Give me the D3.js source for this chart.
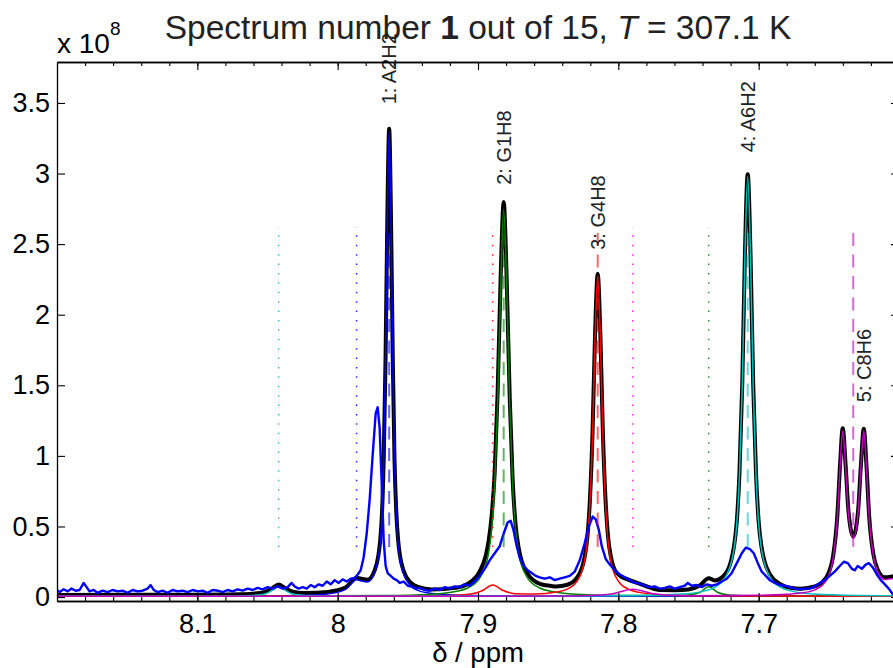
<!DOCTYPE html>
<html>
<head>
<meta charset="utf-8">
<style>
body
{
  margin:0;
  background:#fff;
}
text
{
  font-family:"Liberation Sans", Arial, Helvetica, sans-serif;
  fill:#000;
}
</style>
<script src="https://cdnjs.cloudflare.com/ajax/libs/d3/7.8.5/d3.min.js"></script>
</head>
<body>
<script>
// ---- data (ppm, intensity in units of 1e8) ----
var spectrumIndex = 1, spectrumCount = 15, temperature = "307.1";

var xTicks = [8.1, 8, 7.9, 7.8, 7.7];
var yTicks = [0, 0.5, 1, 1.5, 2, 2.5, 3, 3.5];

// measured spectrum (blue, noisy)
var measured = [
  [8.2,0.05],[8.1981,0.035],[8.1953,0.055],[8.1924,0.04],[8.1896,0.06],[8.1867,0.045],[8.1839,0.05],[8.181,0.1],
  [8.1789,0.07],[8.1768,0.04],[8.1739,0.05],[8.1711,0.03],[8.1675,0.045],[8.1639,0.035],[8.1604,0.05],[8.1568,0.04],
  [8.1532,0.045],[8.1497,0.03],[8.1461,0.05],[8.1426,0.04],[8.139,0.045],[8.1354,0.06],[8.1333,0.085],[8.1311,0.05],
  [8.1283,0.035],[8.1247,0.045],[8.1212,0.03],[8.1176,0.05],[8.114,0.04],[8.1105,0.045],[8.1069,0.035],[8.1033,0.05],
  [8.0998,0.04],[8.0962,0.045],[8.0927,0.03],[8.0891,0.05],[8.0855,0.045],[8.082,0.035],[8.0784,0.05],[8.0748,0.04],
  [8.0713,0.055],[8.0677,0.045],[8.0641,0.06],[8.0606,0.05],[8.057,0.065],[8.0535,0.055],[8.0499,0.07],[8.0463,0.06],
  [8.0428,0.075],[8.0392,0.06],[8.0356,0.07],[8.0328,0.1],[8.0306,0.075],[8.0278,0.06],[8.0249,0.07],[8.0221,0.06],
  [8.0192,0.085],[8.0164,0.07],[8.0135,0.09],[8.0107,0.08],[8.0078,0.11],[8.005,0.09],[8.0021,0.12],[7.9993,0.1],
  [7.9964,0.125],[7.9936,0.11],[7.9907,0.13],[7.9879,0.135],[7.9857,0.16],[7.9836,0.19],[7.9815,0.28],[7.9793,0.45],
  [7.9772,0.69],[7.9751,1.0],[7.9729,1.3],[7.9715,1.345],[7.9701,1.2],[7.9686,0.8],[7.9672,0.4],[7.9658,0.22],
  [7.9644,0.17],[7.9622,0.15],[7.9601,0.13],[7.9579,0.12],[7.9558,0.1],[7.953,0.11],[7.9501,0.08],[7.9473,0.075],
  [7.9444,0.06],[7.9416,0.065],[7.938,0.05],[7.9344,0.045],[7.9309,0.06],[7.9273,0.05],[7.9237,0.07],[7.9202,0.06],
  [7.9166,0.075],[7.913,0.07],[7.9095,0.09],[7.9059,0.08],[7.9024,0.11],[7.8988,0.15],[7.8952,0.2],[7.8917,0.26],
  [7.8881,0.31],[7.8845,0.36],[7.8817,0.45],[7.8788,0.53],[7.8767,0.54],[7.8746,0.47],[7.8724,0.36],[7.8703,0.28],
  [7.8674,0.22],[7.8646,0.19],[7.8617,0.17],[7.8589,0.15],[7.856,0.14],[7.8525,0.13],[7.8489,0.14],[7.8453,0.12],
  [7.8418,0.13],[7.8382,0.14],[7.8346,0.15],[7.8311,0.18],[7.8275,0.26],[7.824,0.38],[7.8211,0.5],[7.8182,0.57],
  [7.8161,0.55],[7.814,0.48],[7.8118,0.36],[7.809,0.27],[7.8061,0.23],[7.8026,0.19],[7.799,0.16],[7.7954,0.14],
  [7.7919,0.12],[7.7883,0.1],[7.7847,0.095],[7.7812,0.08],[7.7776,0.07],[7.7741,0.075],[7.7705,0.06],[7.7669,0.065],
  [7.7634,0.075],[7.7598,0.06],[7.7562,0.07],[7.7527,0.08],[7.7505,0.1],[7.7477,0.08],[7.7441,0.085],[7.7406,0.07],
  [7.737,0.09],[7.7334,0.08],[7.7299,0.09],[7.7263,0.11],[7.7227,0.13],[7.7192,0.17],[7.7156,0.24],[7.712,0.31],
  [7.7092,0.35],[7.7063,0.34],[7.7035,0.31],[7.7006,0.24],[7.6978,0.18],[7.6949,0.15],[7.6921,0.12],[7.6885,0.1],
  [7.685,0.085],[7.6814,0.08],[7.6778,0.07],[7.6743,0.06],[7.6707,0.055],[7.6671,0.06],[7.6636,0.06],[7.66,0.075],
  [7.6565,0.1],[7.6529,0.12],[7.6493,0.15],[7.6458,0.18],[7.6422,0.22],[7.6393,0.25],[7.6365,0.24],[7.6336,0.2],
  [7.6315,0.19],[7.6294,0.22],[7.6265,0.2],[7.6237,0.23],[7.6215,0.24],[7.6187,0.21],[7.6158,0.16],[7.613,0.12],
  [7.6101,0.09],[7.6073,0.06],[7.6044,0.02],[7.6,0.0]
];

// total fit (black)
var totalFit = [
  [8.2,0.015],[8.15,0.016],[8.1,0.017],[8.07,0.020],[8.06,0.024],[8.052,0.035],[8.047,0.059],[8.042,0.089],
  [8.037,0.060],[8.032,0.038],[8.024,0.029],[8.0146,0.030],[8.0,0.048],[7.9941,0.070],[7.9865,0.137],[7.9838,0.131],
  [7.9787,0.122],[7.9736,0.190],[7.971,0.294],[7.9697,0.401],[7.9684,0.597],[7.9672,0.976],[7.9659,1.672],[7.9646,2.684],
  [7.9633,3.317],[7.962,2.685],[7.9607,1.672],[7.9595,0.976],[7.9582,0.597],[7.9569,0.401],[7.9556,0.293],[7.953,0.185],
  [7.9479,0.102],[7.9428,0.072],[7.933,0.054],[7.9159,0.065],[7.9074,0.093],[7.8988,0.181],[7.8945,0.293],[7.8924,0.398],
  [7.8903,0.572],[7.8881,0.885],[7.886,1.454],[7.8838,2.284],[7.8817,2.798],[7.8796,2.265],[7.8774,1.414],[7.8753,0.829],
  [7.8732,0.511],[7.871,0.347],[7.8689,0.255],[7.8646,0.165],[7.856,0.094],[7.8475,0.078],[7.8444,0.075],[7.8369,0.085],
  [7.8295,0.137],[7.8258,0.211],[7.824,0.284],[7.8221,0.420],[7.8203,0.680],[7.8184,1.159],[7.8166,1.856],[7.8147,2.290],
  [7.8128,1.857],[7.811,1.162],[7.8091,0.684],[7.8073,0.424],[7.8054,0.290],[7.8036,0.218],[7.7999,0.159],[7.7925,0.122],
  [7.785,0.095],[7.775,0.059],[7.7702,0.050],[7.76,0.049],[7.75,0.054],[7.742,0.082],[7.7356,0.133],[7.7313,0.118],
  [7.7235,0.167],[7.7196,0.261],[7.7176,0.358],[7.7156,0.534],[7.7137,0.878],[7.7117,1.508],[7.7098,2.424],[7.7078,2.995],
  [7.7058,2.423],[7.7039,1.507],[7.7019,0.877],[7.7,0.533],[7.698,0.357],[7.696,0.259],[7.6921,0.162],[7.6843,0.090],
  [7.6764,0.064],[7.67,0.059],[7.66,0.075],[7.655,0.102],[7.65,0.175],[7.647,0.286],[7.644,0.567],[7.642,0.937],
  [7.6401,1.196],[7.638,0.927],[7.636,0.608],[7.6326,0.430],[7.6292,0.606],[7.6272,0.925],[7.6251,1.193],[7.6232,0.934],
  [7.6212,0.563],[7.6182,0.300],[7.6152,0.195],[7.6102,0.140],[7.6052,0.145],[7.6,0.155]
];

// single peak fits
var fitA2H2 = [
  [8.2,0.0053],[8.1,0.006],[8.05,0.008],[8.03,0.011],[8.0146,0.015],[8.0,0.033],[7.9941,0.056],[7.9865,0.123],
  [7.9838,0.116],[7.9787,0.107],[7.9736,0.175],[7.971,0.279],[7.9697,0.386],[7.9684,0.582],[7.9672,0.961],[7.9659,1.657],
  [7.9646,2.669],[7.9633,3.302],[7.962,2.667],[7.9607,1.654],[7.9595,0.957],[7.9582,0.577],[7.9569,0.381],[7.9556,0.272],
  [7.953,0.163],[7.9479,0.079],[7.9428,0.047],[7.9325,0.025],[7.912,0.013],[7.85,0.007],[7.7,0.0055],[7.6,0.0053]
];
var fitG1H8 = [
  [8.2,0.0055],[8.05,0.007],[7.9672,0.0105],[7.933,0.020],[7.9159,0.039],[7.9074,0.064],[7.8988,0.134],[7.8945,0.224],
  [7.8924,0.315],[7.8903,0.478],[7.8881,0.794],[7.886,1.375],[7.8838,2.219],[7.8817,2.745],[7.8796,2.219],[7.8774,1.375],
  [7.8753,0.794],[7.8732,0.478],[7.871,0.315],[7.8689,0.224],[7.8646,0.134],[7.856,0.064],[7.8475,0.039],[7.8304,0.020],
  [7.7962,0.0105],[7.76,0.011],[7.75,0.015],[7.742,0.032],[7.7356,0.073],[7.729,0.032],[7.721,0.014],[7.711,0.010],
  [7.68,0.007],[7.6,0.006]
];
var fitG4H8 = [
  [8.2,0.0052],[8.0,0.006],[7.95,0.008],[7.92,0.011],[7.905,0.022],[7.897,0.045],[7.8895,0.085],[7.882,0.046],
  [7.874,0.024],[7.8592,0.021],[7.8444,0.035],[7.8369,0.054],[7.8295,0.111],[7.8258,0.186],[7.824,0.260],[7.8221,0.395],
  [7.8203,0.656],[7.8184,1.135],[7.8166,1.831],[7.8147,2.265],[7.8128,1.831],[7.811,1.135],[7.8091,0.656],[7.8073,0.395],
  [7.8054,0.260],[7.8036,0.186],[7.7999,0.111],[7.7925,0.054],[7.785,0.033],[7.7702,0.017],[7.7406,0.0095],[7.7,0.0075],
  [7.6,0.006]
];
var fitA6H2 = [
  [8.2,0.0052],[8.1,0.0059],[8.07,0.008],[8.06,0.0117],[8.052,0.022],[8.047,0.045],[8.042,0.075],[8.037,0.045],
  [8.032,0.022],[8.024,0.0117],[8.014,0.008],[7.98,0.006],[7.9,0.007],[7.7862,0.011],[7.7549,0.021],[7.7392,0.042],
  [7.7313,0.069],[7.7235,0.145],[7.7196,0.243],[7.7176,0.341],[7.7156,0.518],[7.7137,0.862],[7.7117,1.493],[7.7098,2.409],
  [7.7078,2.98],[7.7058,2.409],[7.7039,1.493],[7.7019,0.862],[7.7,0.518],[7.698,0.341],[7.696,0.243],[7.6921,0.145],
  [7.6843,0.069],[7.6764,0.042],[7.6608,0.021],[7.6294,0.011],[7.6,0.009]
];
var fitC8H6 = [
  [8.2,0.0051],[7.9,0.006],[7.85,0.0072],[7.82,0.0115],[7.805,0.022],[7.7897,0.056],[7.774,0.022],[7.76,0.0125],
  [7.75,0.010],[7.70,0.012],[7.68,0.019],[7.67,0.028],[7.66,0.051],[7.655,0.081],[7.65,0.155],[7.647,0.268],
  [7.644,0.550],[7.642,0.920],[7.6401,1.179],[7.638,0.911],[7.636,0.592],[7.6326,0.415],[7.6292,0.592],[7.6272,0.911],
  [7.6251,1.179],[7.6232,0.920],[7.6212,0.550],[7.6182,0.290],[7.6152,0.180],[7.6102,0.125],[7.6052,0.13],[7.6,0.14]
];

var peakNames   = ["1: A2H2", "2: G1H8", "3: G4H8", "4: A6H2", "5: C8H6"];
var peakFits    = [fitA2H2, fitG1H8, fitG4H8, fitA6H2, fitC8H6];
var peakCenters = [7.9633, 7.8817, 7.8147, 7.7078, 7.6326];
var labelPpm    = [7.9633, 7.8817, 7.8147, 7.7078, 7.6251];
var labelStart  = [3.49, 2.92, 2.46, 3.15, 1.38];
var minorPeaks  = [8.042, 7.9865, 7.8895, 7.7897, 7.7356];
var markerSpan  = [0.354, 2.62];

var peakColors  = ["#0000ff", "#008000", "#ff0000", "#00bfbf", "#bf00bf"];
var minorColors = ["#00bfbf", "#0000ff", "#ff0000", "#ff00ff", "#008000"];

// ---- layout ----
var W = 893, H = 668;
var padL = 57, padR = 899, padT = 62, padB = 601;

var svg = d3.select("body")
  .append("svg")
  .attr("width", W)
  .attr("height", H);

var x = d3.scaleLinear().domain([8.2, 7.6]).range([padL, padR]);
var y = d3.scaleLinear().domain([-0.028, 3.79]).range([padB, padT]);

svg.append("clipPath").attr("id", "clip")
  .append("rect")
  .attr("x", padL).attr("y", padT)
  .attr("width", padR - padL).attr("height", padB - padT);

var plot = svg.append("g").attr("clip-path", "url(#clip)");

var smooth = d3.line()
  .x(function(d){ return x(d[0]); })
  .y(function(d){ return y(d[1]); })
  .curve(d3.curveMonotoneX);

var raw = d3.line()
  .x(function(d){ return x(d[0]); })
  .y(function(d){ return y(d[1]); });

// total fit
plot.append("path")
  .attr("d", smooth(totalFit))
  .attr("fill", "none")
  .attr("stroke", "#000")
  .attr("stroke-width", 4)
  .attr("stroke-linejoin", "round");

// single fits
peakFits.forEach(function(f, i){
  plot.append("path")
    .attr("d", smooth(f))
    .attr("fill", "none")
    .attr("stroke", peakColors[i])
    .attr("stroke-width", 1.5);
});

// measured
plot.append("path")
  .attr("d", raw(measured))
  .attr("fill", "none")
  .attr("stroke", "#0000ff")
  .attr("stroke-width", 2.4)
  .attr("stroke-linejoin", "round");

// peak centre markers (dashed)
peakCenters.forEach(function(c, i){
  plot.append("line")
    .attr("x1", x(c)).attr("x2", x(c))
    .attr("y1", y(markerSpan[0])).attr("y2", y(markerSpan[1]))
    .attr("stroke", peakColors[i])
    .attr("stroke-opacity", 0.6)
    .attr("stroke-width", 2)
    .attr("stroke-dasharray", "13,8.5");
});

// minor peak markers (dotted)
minorPeaks.forEach(function(c, i){
  plot.append("line")
    .attr("x1", x(c)).attr("x2", x(c))
    .attr("y1", y(markerSpan[0])).attr("y2", y(markerSpan[1]))
    .attr("stroke", minorColors[i])
    .attr("stroke-opacity", 0.85)
    .attr("stroke-width", 1.5)
    .attr("stroke-dasharray", "1.5,7.9");
});

// peak labels
peakNames.forEach(function(n, i){
  svg.append("text")
    .attr("transform", "translate(" + x(labelPpm[i]) + "," + y(labelStart[i]) + ") rotate(-90)")
    .attr("dy", "0.36em")
    .style("font-size", "20px")
    .style("fill", "#222")
    .text(n);
});

// ---- axes ----
var minor = d3.range(7.62, 8.2, 0.02);

function styleAxis(g)
{
  g.selectAll(".domain").attr("stroke", "#000").attr("stroke-width", 1.3);
  g.selectAll(".tick line").attr("stroke", "#000").attr("stroke-width", 1.1);
  g.selectAll("text").style("font-size", "27px").attr("fill", "#000")
    .style("font-family", "'Liberation Sans', Arial, sans-serif");
}

var fmt = function(d){ return d3.format("")(+d.toFixed(2)); };

svg.append("g")
  .attr("transform", "translate(0," + padB + ")")
  .call(d3.axisBottom(x).tickValues(minor).tickSize(-4).tickSizeOuter(0).tickFormat(""))
  .call(styleAxis);
svg.append("g")
  .attr("transform", "translate(0," + padB + ")")
  .call(d3.axisBottom(x).tickValues(xTicks).tickSize(-8).tickSizeOuter(0).tickPadding(13).tickFormat(fmt))
  .call(styleAxis);

svg.append("g")
  .attr("transform", "translate(0," + padT + ")")
  .call(d3.axisTop(x).tickValues(minor).tickSize(-4).tickSizeOuter(0).tickFormat(""))
  .call(styleAxis);
svg.append("g")
  .attr("transform", "translate(0," + padT + ")")
  .call(d3.axisTop(x).tickValues(xTicks).tickSize(-8).tickSizeOuter(0).tickFormat(""))
  .call(styleAxis);

svg.append("g")
  .attr("transform", "translate(" + padL + ",0)")
  .call(d3.axisLeft(y).tickValues(yTicks).tickSize(-8).tickSizeOuter(0).tickPadding(7).tickFormat(fmt))
  .call(styleAxis);
svg.append("g")
  .attr("transform", "translate(" + padR + ",0)")
  .call(d3.axisRight(y).tickValues(yTicks).tickSize(-8).tickSizeOuter(0).tickFormat(""))
  .call(styleAxis);

// exponent
var ex = svg.append("text")
  .attr("x", padL).attr("y", 53)
  .style("font-size", "28px");
ex.append("tspan").text("x 10");
ex.append("tspan").attr("dy", -18).style("font-size", "19px").text("8");

// x label
svg.append("text")
  .attr("x", (padL + padR) / 2).attr("y", 662)
  .attr("text-anchor", "middle")
  .style("font-size", "27.5px")
  .text("\u03b4 / ppm");

// title
var t = svg.append("text")
  .attr("x", (padL + padR) / 2).attr("y", 39)
  .attr("text-anchor", "middle")
  .style("font-size", "33.5px")
  .style("fill", "#222");
t.append("tspan").text("Spectrum number ");
t.append("tspan").style("font-weight", "bold").text(spectrumIndex);
t.append("tspan").text(" out of " + spectrumCount + ", ");
t.append("tspan").style("font-style", "italic").text("T");
t.append("tspan").text(" = " + temperature + " K");
</script>
</body>
</html>
